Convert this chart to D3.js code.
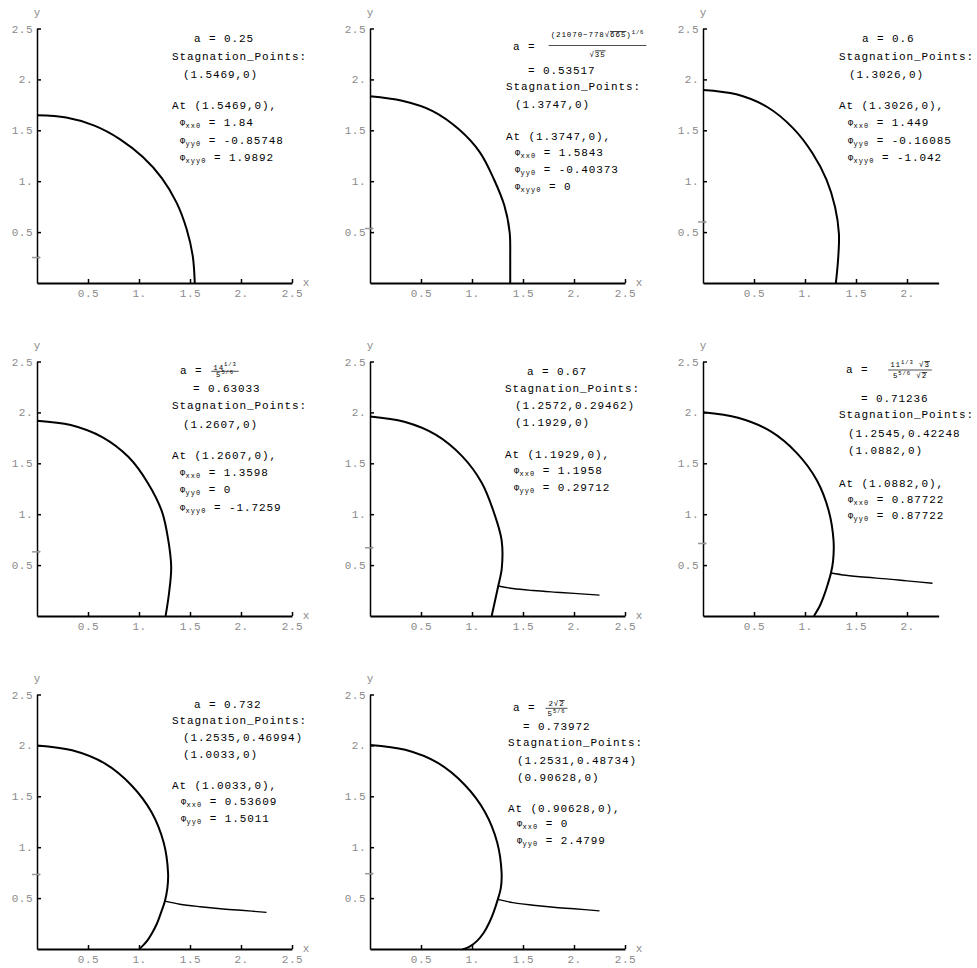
<!DOCTYPE html>
<html><head><meta charset="utf-8">
<script src="https://cdn.jsdelivr.net/npm/d3@7"></script>
<style>
body{margin:0;background:#fff}
svg{display:block}
text{font-family:"Liberation Mono","Courier New",monospace}
</style></head><body>
<svg id="c" width="977" height="968"></svg>
<script>
// ---------------- data ----------------
const aValues = [0.25, 0.53517, 0.6, 0.63033, 0.67, 0.71236, 0.732, 0.73972];
const xMaxes = [2.5, 2.5, 2.31, 2.5, 2.5, 2.31, 2.5, 2.5];
const tickValues = [0.5, 1, 1.5, 2, 2.5];
const tickLabels = ["0.5", "1.", "1.5", "2.", "2.5"];

const body1 = [[0,1.647],[0.2864,1.6249],[0.5626,1.5458],[0.815,1.4116],[1.0381,1.2371],[1.2256,1.0285],[1.3683,0.79],[1.4659,0.5335],[1.5264,0.2691],[1.5469,0]];
const body2 = [[0,1.834],[0.3154,1.7894],[0.6146,1.6886],[0.8715,1.5095],[1.0773,1.2838],[1.2149,1.0195],[1.3172,0.7605],[1.3692,0.4983],[1.3747,0.2424],[1.3747,0.12],[1.3747,0]];
const body3 = [[0,1.897],[0.3268,1.8534],[0.6293,1.729],[0.88,1.5242],[1.0722,1.2778],[1.2104,1.0156],[1.2947,0.7475],[1.3325,0.485],[1.3246,0.2336],[1.3026,0]];
const body4 = [[0,1.919],[0.3307,1.876],[0.6396,1.7572],[0.90,1.5588],[1.0908,1.2999],[1.2244,1.0274],[1.2874,0.7433],[1.3156,0.4788],[1.295,0.2283],[1.2607,0]];
const body5 = [[0,1.959],[0.3363,1.9076],[0.6474,1.7788],[0.905,1.5675],[1.0966,1.3069],[1.2142,1.0188],[1.2903,0.745],[1.2921,0.4703],[1.2572,0.29462],[1.2257,0.1505],[1.1929,0]];
const body6 = [[0,2.001],[0.3433,1.947],[0.6607,1.8155],[0.9225,1.5978],[1.1172,1.3314],[1.2325,1.0343],[1.28,0.739],[1.2753,0.5413],[1.2545,0.42248],[1.2224,0.31],[1.1896,0.2098],[1.1456,0.1002],[1.0882,0]];
const body7 = [[0,2.0],[0.3441,1.9519],[0.6635,1.823],[0.9275,1.6065],[1.1249,1.3405],[1.2425,1.0426],[1.2851,0.742],[1.2779,0.5959],[1.2535,0.46994],[1.215,0.355],[1.173,0.243],[1.13,0.16],[1.09,0.095],[1.045,0.04],[1.0033,0]];
const body8 = [[0,2.005],[0.345,1.9568],[0.6652,1.8277],[0.93,1.6108],[1.1281,1.3443],[1.2471,1.0465],[1.2903,0.745],[1.2824,0.598],[1.2531,0.48734],[1.215,0.37],[1.17,0.26],[1.115,0.16],[1.05,0.08],[0.98,0.025],[0.93,0.004],[0.90628,0]];
const wake5 = [[1.2572,0.29462],[1.4,0.27],[1.6,0.25],[1.8,0.235],[2.0,0.222],[2.25,0.205]];
const wake6 = [[1.2545,0.42248],[1.4,0.40],[1.6,0.38],[1.8,0.365],[2.0,0.345],[2.25,0.322]];
const wake7 = [[1.2535,0.46994],[1.4,0.44],[1.6,0.415],[1.8,0.395],[2.0,0.38],[2.25,0.36]];
const wake8 = [[1.2531,0.48734],[1.4,0.455],[1.6,0.43],[1.8,0.41],[2.0,0.395],[2.25,0.375]];
const bodies = [body1, body2, body3, body4, body5, body6, body7, body8];
const wakes = [null, null, null, null, wake5, wake6, wake7, wake8];

// annotation texts
const aPlain = ["0.25", null, "0.6", null, "0.67", null, "0.732", null];
const aDecimal = [null, "0.53517", null, "0.63033", null, "0.71236", null, "0.73972"];
// fraction segments: [text, kind]  n = normal, s = superscript, o = under radical bar
const aNumerators = [null,
  [["(21070\u2212778\u221a","n"],["665","o"],[")","n"],["1/6","s"]], null,
  [["14","n"],["1/3","s"]], null,
  [["11","n"],["1/3","s"],[" \u221a","n"],["3","o"]], null,
  [["2\u221a","n"],["2","o"]]];
const aDenominators = [null,
  [["\u221a","n"],["35","o"]], null,
  [["5","n"],["5/6","s"]], null,
  [["5","n"],["5/6","s"],[" \u221a","n"],["2","o"]], null,
  [["5","n"],["5/6","s"]]];
const stagPoints = [["(1.5469,0)"], ["(1.3747,0)"], ["(1.3026,0)"], ["(1.2607,0)"],
  ["(1.2572,0.29462)", "(1.1929,0)"], ["(1.2545,0.42248", "(1.0882,0)"],
  ["(1.2535,0.46994)", "(1.0033,0)"], ["(1.2531,0.48734)", "(0.90628,0)"]];
const atPoints = ["(1.5469,0)", "(1.3747,0)", "(1.3026,0)", "(1.2607,0)", "(1.1929,0)", "(1.0882,0)", "(1.0033,0)", "(0.90628,0)"];
const phiXX = ["1.84", "1.5843", "1.449", "1.3598", "1.1958", "0.87722", "0.53609", "0"];
const phiYY = ["-0.85748", "-0.40373", "-0.16085", "0", "0.29712", "0.87722", "1.5011", "2.4799"];
const phiXYY = ["1.9892", "0", "-1.042", "-1.7259", null, null, null, null];

// ---------------- layout ----------------
const axisX = [37, 370, 703, 37, 370, 703, 37, 370];
const rowTop = [28.5, 28.5, 28.5, 361.5, 361.5, 361.5, 694.5, 694.5];
const plotH = 254.5, pxPerUnit = 102;
const layout = [
  {aDx:157, aY:13, stagDx:135, stagY:31, ptDx:146, ptY:[49], atDx:135, atY:80, phiDx:143, phiY:[97.5,115,132]},
  {aDx:143, aY:21, fracC:227.5, numY:8.5, lineY:17, denY:28, decDx:158, decY:45, stagDx:136, stagY:61, ptDx:145, ptY:[79], atDx:136, atY:111, phiDx:145, phiY:[127,144,161]},
  {aDx:159, aY:13, stagDx:136, stagY:31, ptDx:146, ptY:[49], atDx:136, atY:80, phiDx:145, phiY:[97.5,115,132]},
  {aDx:143, aY:12.5, fracC:188, numY:8, lineY:9.8, denY:15.5, decDx:156, decY:30.5, stagDx:135, stagY:47.5, ptDx:146, ptY:[66], atDx:135, atY:97, phiDx:143, phiY:[114,131,149]},
  {aDx:157, aY:13, stagDx:135, stagY:30.5, ptDx:145, ptY:[47.5,64.5], atDx:135, atY:96, phiDx:144, phiY:[112.5,129]},
  {aDx:143, aY:11.5, fracC:207, numY:5.5, lineY:8.5, denY:16.5, decDx:158, decY:40.7, stagDx:136, stagY:56.3, ptDx:145, ptY:[75.7,92.3], atDx:136, atY:125.7, phiDx:145, phiY:[141,157.5]},
  {aDx:157, aY:13.5, stagDx:135, stagY:29.5, ptDx:146, ptY:[46.5,63.5], atDx:135, atY:94.5, phiDx:144, phiY:[110.5,127.5]},
  {aDx:143, aY:16.5, fracC:186.5, numY:11.5, lineY:13.8, denY:21.5, decDx:153, decY:35.5, stagDx:138, stagY:51.5, ptDx:147, ptY:[69.5,86], atDx:138, atY:117, phiDx:147, phiY:[132,149]}
];

const svg = d3.select("#c");
const FS = 11, LS = 0.9;
const grey = "#8a8a8a";

function mainText(g, x, y, str) {
  return g.append("text").attr("x", x).attr("y", y)
    .attr("font-size", FS).attr("letter-spacing", LS).attr("fill", "#000").text(str);
}

function fracPart(g, cx, y, segs) {
  const t = g.append("text").attr("x", cx).attr("y", y).attr("text-anchor", "middle")
    .attr("font-size", 7.5).attr("letter-spacing", 0.9).attr("fill", "#000");
  let prevSup = false;
  segs.forEach(([s, k]) => {
    const ts = t.append("tspan").text(s);
    if (k === "s") ts.attr("font-size", 5.5).attr("dy", -3.5);
    else {
      if (k === "o") ts.style("text-decoration", "overline");
      if (prevSup) ts.attr("dy", 3.5);
    }
    prevSup = (k === "s");
  });
  return t;
}

aValues.forEach((a, i) => {
  const x0 = axisX[i], top = rowTop[i], bottom = top + plotH;
  const x = d3.scaleLinear().domain([0, xMaxes[i]]).range([x0, x0 + xMaxes[i] * pxPerUnit]);
  const y = d3.scaleLinear().domain([0, 2.5]).range([bottom, top]);
  const g = svg.append("g");

  // axes
  const xt = tickValues.filter(v => v <= xMaxes[i] + 1e-9);
  const xAxis = d3.axisBottom(x).tickValues(xt).tickFormat(v => tickLabels[tickValues.indexOf(v)])
    .tickSizeInner(-4).tickSizeOuter(0).tickPadding(6);
  const gx = g.append("g").attr("transform", `translate(0,${bottom})`).call(xAxis);
  gx.select(".domain").attr("stroke", "#000").attr("stroke-width", 2);
  gx.selectAll(".tick line").attr("stroke", "#000").attr("stroke-width", 1.5);
  gx.selectAll(".tick text").attr("fill", grey).attr("font-size", FS).attr("letter-spacing", 0.5)
    .attr("font-family", "Liberation Mono");

  const yAxis = d3.axisLeft(y).tickValues(tickValues).tickFormat(v => tickLabels[tickValues.indexOf(v)])
    .tickSizeInner(-4).tickSizeOuter(0).tickPadding(4);
  const gy = g.append("g").attr("transform", `translate(${x0},0)`).call(yAxis);
  gy.select(".domain").attr("stroke", "#000").attr("stroke-width", 1.5);
  gy.selectAll(".tick line").attr("stroke", "#000").attr("stroke-width", 1.5);
  gy.selectAll(".tick text").attr("fill", grey).attr("font-size", FS).attr("letter-spacing", 0.5)
    .attr("font-family", "Liberation Mono");

  // axis labels
  g.append("text").attr("x", x0).attr("y", top - 13).attr("text-anchor", "middle")
    .attr("font-size", FS).attr("fill", grey).text("y");
  if (xMaxes[i] >= 2.5) {
    g.append("text").attr("x", x(xMaxes[i]) + 14).attr("y", bottom + 3).attr("text-anchor", "middle")
      .attr("font-size", FS).attr("fill", grey).text("x");
  }

  // small arrow at y = a
  const ay = y(a);
  g.append("line").attr("x1", x0 - 5).attr("x2", x0 + 2).attr("y1", ay).attr("y2", ay)
    .attr("stroke", "#999").attr("stroke-width", 1.5);
  g.append("path").attr("d", `M${x0 + 4},${ay}L${x0 + 1},${ay - 2}L${x0 + 1},${ay + 2}Z`).attr("fill", "#999");

  // curves
  const line = d3.line().x(d => x(d[0])).y(d => y(d[1])).curve(d3.curveCatmullRom.alpha(0.5));
  g.append("path").datum(bodies[i]).attr("d", line).attr("fill", "none")
    .attr("stroke", "#000").attr("stroke-width", 2);
  if (wakes[i]) {
    g.append("path").datum(wakes[i]).attr("d", line).attr("fill", "none")
      .attr("stroke", "#000").attr("stroke-width", 1.4);
  }

  // annotations
  const L = layout[i];
  if (aPlain[i]) {
    mainText(g, x0 + L.aDx, top + L.aY, "a = " + aPlain[i]);
  } else {
    mainText(g, x0 + L.aDx, top + L.aY, "a =");
    const cx = x0 + L.fracC;
    const n = fracPart(g, cx, top + L.numY, aNumerators[i]);
    const d = fracPart(g, cx, top + L.denY, aDenominators[i]);
    const w = Math.max(n.node().getBBox().width, d.node().getBBox().width) + 4;
    g.append("line").attr("x1", cx - w / 2).attr("x2", cx + w / 2)
      .attr("y1", top + L.lineY).attr("y2", top + L.lineY).attr("stroke", "#000").attr("stroke-width", 0.7);
    mainText(g, x0 + L.decDx, top + L.decY, "= " + aDecimal[i]);
  }
  mainText(g, x0 + L.stagDx, top + L.stagY, "Stagnation_Points:");
  stagPoints[i].forEach((p, k) => mainText(g, x0 + L.ptDx, top + L.ptY[k], p));
  mainText(g, x0 + L.atDx, top + L.atY, "At " + atPoints[i] + ",");
  const phis = [["xx0", phiXX[i]], ["yy0", phiYY[i]], ["xyy0", phiXYY[i]]].filter(p => p[1] !== null);
  phis.forEach(([sub, val], k) => {
    const t = g.append("text").attr("x", x0 + L.phiDx).attr("y", top + L.phiY[k]).attr("fill", "#000");
    t.append("tspan").attr("font-size", 8.5).attr("letter-spacing", 0.5).text("\u03a6");
    t.append("tspan").attr("font-size", 7).attr("letter-spacing", 1).attr("dy", 2).text(sub);
    t.append("tspan").attr("font-size", FS).attr("letter-spacing", LS).attr("dy", -2).text(" = " + val);
  });
});
</script>
</body></html>
